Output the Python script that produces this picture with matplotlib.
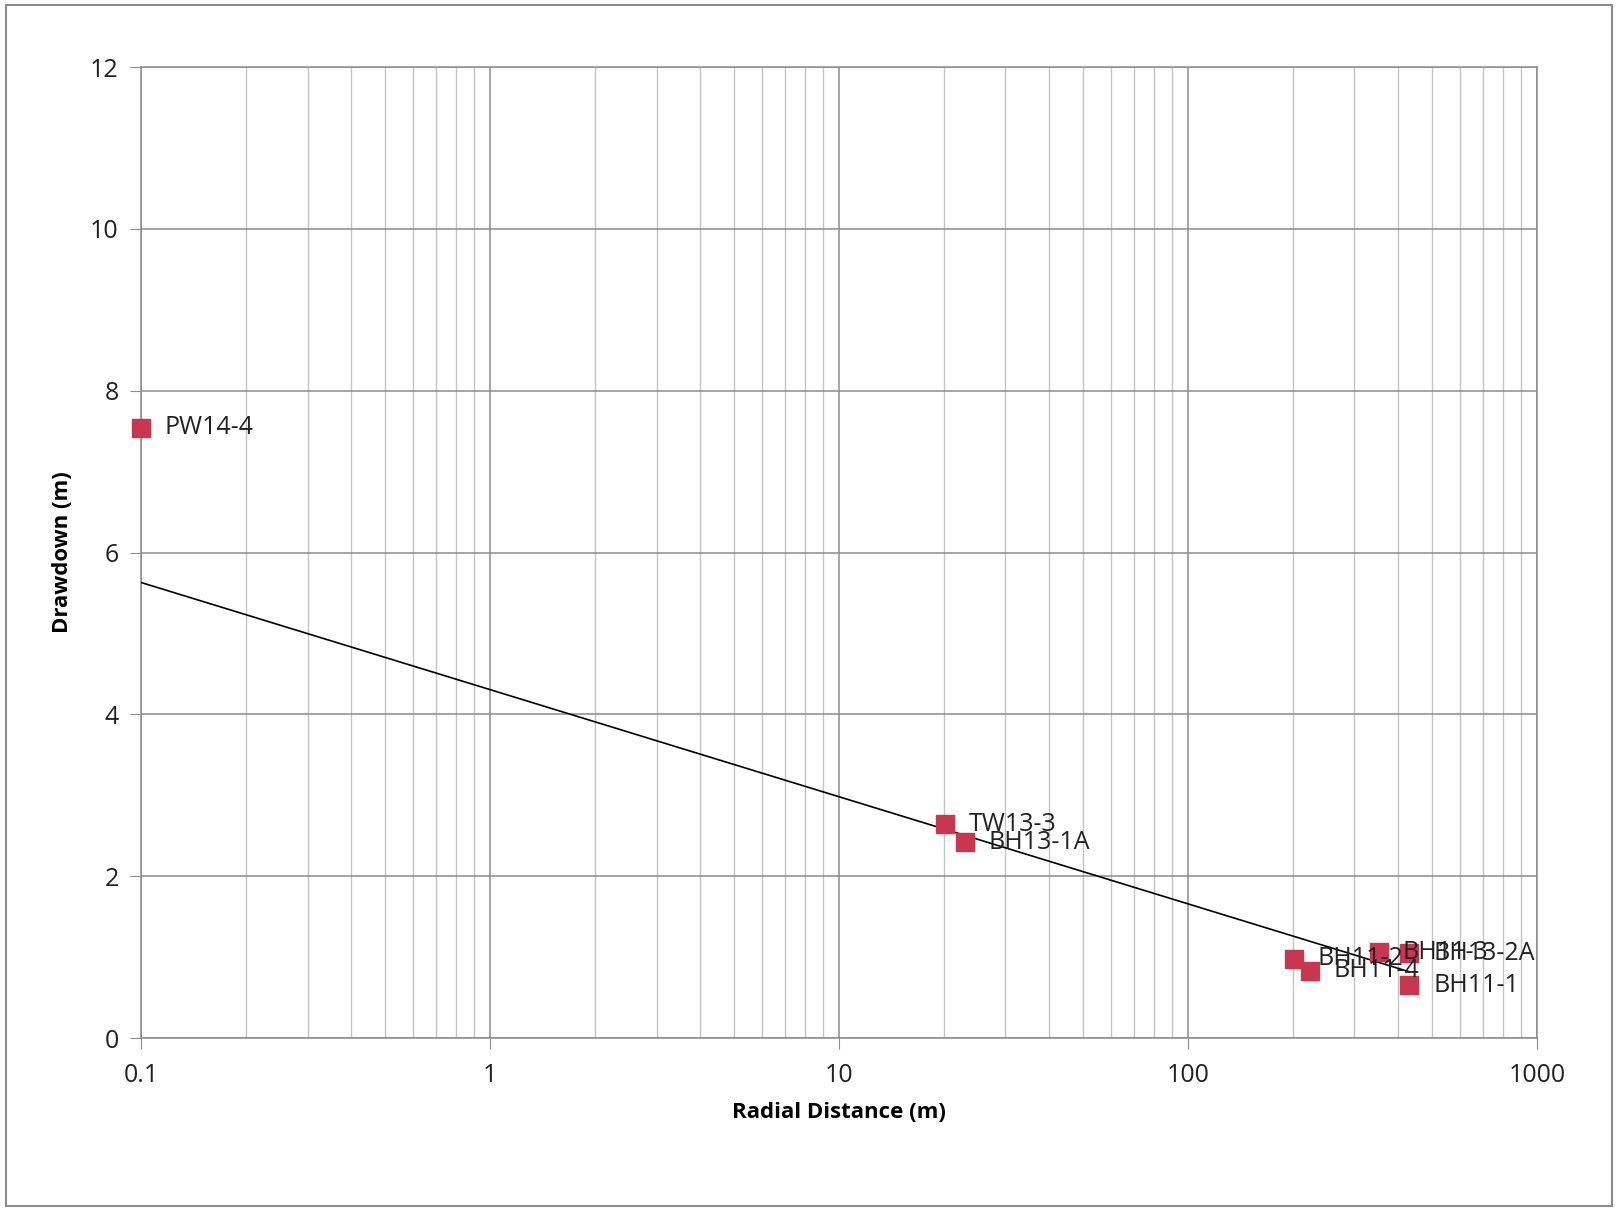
import numpy as np
import matplotlib
matplotlib.use('Agg')
import matplotlib.pyplot as plt
import matplotlib.ticker as plticker
from matplotlib.patches import Rectangle

# observation wells: radial distance (m), drawdown (m)
wells = ['PW14-4', 'TW13-3', 'BH13-1A', 'BH11-2', 'BH11-4', 'BH11-3', 'BH13-2A', 'BH11-1']
distance = [0.1, 20.1, 23.0, 201, 224, 353, 431, 431]
drawdown = [7.54, 2.64, 2.42, 0.98, 0.83, 1.06, 1.05, 0.65]

# fitted straight line (semi-log)
fit_x = [0.1, 430]
fit_y = [5.63, 0.82]

plt.rcParams['font.family'] = ['Open Sans', 'DejaVu Sans']

fig = plt.figure(figsize=(16.17, 12.10), dpi=100)
ax = fig.add_axes([0.0872, 0.1421, 0.8633, 0.8025])

ax.set_xscale('log')
ax.set_xlim(0.1, 1000)
ax.set_ylim(0, 12)

ax.plot(fit_x, fit_y, color='black', linewidth=1.2, zorder=3)
ax.plot(distance, drawdown, linestyle='none', marker='s', markersize=13.5,
        color='#c8364f', markeredgecolor='#c8364f', zorder=4, clip_on=False)

for name, x, y in zip(wells, distance, drawdown):
    ax.annotate(name, (x, y), xytext=(17, 0), textcoords='offset points',
                va='center', ha='left', fontsize=18, color='#222222', zorder=5)

ax.yaxis.set_major_locator(plticker.MultipleLocator(2))
ax.xaxis.set_major_locator(plticker.LogLocator(base=10))
ax.xaxis.set_minor_locator(plticker.LogLocator(base=10, subs=np.arange(2, 10)))
ax.xaxis.set_minor_formatter(plticker.NullFormatter())
ax.xaxis.set_major_formatter(plticker.FuncFormatter(lambda v, p: '%g' % v))

ax.grid(True, which='major', axis='both', color='#8c8c8c', linewidth=1.1)
ax.grid(True, which='minor', axis='x', color='#c4c4c4', linewidth=1.0)
ax.set_axisbelow(True)

for s in ax.spines.values():
    s.set_color('#8c8c8c')
    s.set_linewidth(1.1)

ax.tick_params(axis='both', which='major', length=8, color='#8c8c8c',
               labelsize=18, labelcolor='#222222', pad=8)
ax.tick_params(axis='x', which='minor', length=0)
ax.tick_params(axis='x', which='major', pad=10)

ax.set_xlabel('Radial Distance (m)', fontsize=16, fontweight='bold', labelpad=10)
ax.set_ylabel('Drawdown (m)', fontsize=16, fontweight='bold', labelpad=12)

fig.patches.append(Rectangle((0.004, 0.003), 0.993, 0.993, transform=fig.transFigure,
                             fill=False, edgecolor='#8c8c8c', linewidth=1.5))

fig.savefig('out.png', dpi=100)
